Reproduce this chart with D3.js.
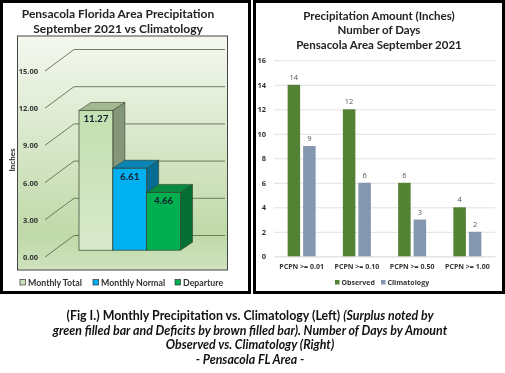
<!DOCTYPE html>
<html>
<head>
<meta charset="utf-8">
<script src="https://cdn.jsdelivr.net/npm/d3@7"></script>
<style>
  html, body { margin: 0; padding: 0; background: #fff; }
  svg { display: block; filter: blur(0.3px); }
  text { font-family: Lato, "Open Sans", sans-serif; }
</style>
</head>
<body>
<svg id="chart" width="505" height="373"></svg>
<script>
// left chart
const monthlyNames = ['Monthly Total', 'Monthly Normal', 'Departure']
const monthlyValues = [11.27, 6.61, 4.66]
const monthlyTicks = [0, 3, 6, 9, 12, 15]
// right chart
const dayCategories = ['PCPN >= 0.01', 'PCPN >= 0.10', 'PCPN >= 0.50', 'PCPN >= 1.00']
const observedDays = [14, 12, 6, 4]
const climatologyDays = [9, 6, 3, 2]
const dayTicks = [0, 2, 4, 6, 8, 10, 12, 14, 16]
const captionLines = [
    [['(Fig I.) Monthly Precipitation vs. Climatology (Left) ', false], ['(Surplus noted by', true]],
    [['green filled bar and Deficits by brown filled bar). Number of Days by Amount', true]],
    [['Observed vs. Climatology (Right)', true]],
    [['- Pensacola FL Area -', true]]
]

const svg = d3.select('#chart')
const defs = svg.append('defs')

// panel borders
svg.append('rect').attr('x', 1.5).attr('y', 1.5).attr('width', 248).attr('height', 141 + 150)
    .attr('fill', '#fff').attr('stroke', '#000').attr('stroke-width', 3)
svg.append('rect').attr('x', 254.5).attr('y', 1.5).attr('width', 249).attr('height', 141 + 150)
    .attr('fill', '#fff').attr('stroke', '#000').attr('stroke-width', 3)

// ---- left chart ----
const left = svg.append('g')
left.append('text').attr('x', 118).attr('y', 18).attr('text-anchor', 'middle')
    .attr('font-size', 12).attr('font-weight', 700).attr('fill', '#222')
    .text('Pensacola Florida Area Precipitation')
left.append('text').attr('x', 118).attr('y', 33).attr('text-anchor', 'middle')
    .attr('font-size', 12).attr('font-weight', 700).attr('fill', '#222')
    .text('September 2021 vs Climatology')

const plotGradient = defs.append('linearGradient').attr('id', 'plot-bg')
    .attr('x1', '0%').attr('x2', '0%').attr('y1', '0%').attr('y2', '100%')
plotGradient.append('stop').attr('offset', '0%').attr('stop-color', '#f4f8f0')
plotGradient.append('stop').attr('offset', '85%').attr('stop-color', '#bfd9a8')
plotGradient.append('stop').attr('offset', '100%').attr('stop-color', '#cfe3bf')

const barGradient = defs.append('linearGradient').attr('id', 'total-bar')
    .attr('x1', '0%').attr('x2', '0%').attr('y1', '0%').attr('y2', '100%')
barGradient.append('stop').attr('offset', '0%').attr('stop-color', '#c3dfb0')
barGradient.append('stop').attr('offset', '100%').attr('stop-color', '#d8e9cb')

left.append('rect').attr('x', 17.5).attr('y', 36).attr('width', 210).attr('height', 84 + 150)
    .attr('fill', 'url(#plot-bg)').attr('stroke', '#444').attr('stroke-width', 1)

// front edge of the 3d floor, the back wall sits at an offset from it
const frontY = d3.scaleLinear().domain([0, 15]).range([257, 71])
const wallDx = 29
const wallDy = -21.5
const frontX = 45
const wallEnd = 225

const yAxisLeft = d3.axisLeft(frontY).tickValues(monthlyTicks).tickSize(0).tickFormat(d3.format('.2f'))
const yAxisLeftG = left.append('g').attr('transform', 'translate(41, 0)').call(yAxisLeft)
yAxisLeftG.select('.domain').remove()
yAxisLeftG.selectAll('text').attr('font-size', 7.5).attr('font-weight', 700).attr('fill', '#333')
    .style('font-family', '"Open Sans", sans-serif')

left.selectAll('.wall-line').data(monthlyTicks).join('path')
    .attr('class', 'wall-line')
    .attr('fill', 'none').attr('stroke', '#5f6f52').attr('stroke-width', 0.9)
    .attr('d', d => d3.line()([
        [frontX, frontY(d)],
        [frontX + wallDx, frontY(d) + wallDy],
        [wallEnd, frontY(d) + wallDy]
    ]))

left.append('text').attr('transform', 'translate(15, 160) rotate(-90)').attr('text-anchor', 'middle')
    .attr('font-size', 8).attr('font-weight', 700).attr('fill', '#222').text('Inches')

// 3d bars
const monthlyX = d3.scaleBand().domain(monthlyNames).range([79, 180.5])
const monthlyColor = d3.scaleOrdinal().domain(monthlyNames).range(['url(#total-bar)', '#00b0f0', '#00b050'])
const monthlyTop = d3.scaleOrdinal().domain(monthlyNames).range(['#a3b891', '#0a84b4', '#088a41'])
const monthlySide = d3.scaleOrdinal().domain(monthlyNames).range(['#84977a', '#066c94', '#056f33'])
const legendColor = d3.scaleOrdinal().domain(monthlyNames).range(['#cde3bd', '#00b0f0', '#00b050'])
const barDx = 12
const barDy = -8
const barLift = -6.8
const monthlyData = monthlyNames.map((name, i) => ({ name, value: monthlyValues[i] }))

const barG = left.selectAll('.bar3d').data(monthlyData).join('g').attr('class', 'bar3d')
const barTop = d => frontY(d.value) + barLift
const barBase = frontY(0) + barLift
const barLine = d3.line()
barG.append('path').attr('fill', d => monthlySide(d.name)).attr('stroke', '#33402c').attr('stroke-width', 0.6)
    .attr('d', d => {
        const r = monthlyX(d.name) + monthlyX.bandwidth()
        return barLine([[r, barTop(d)], [r + barDx, barTop(d) + barDy], [r + barDx, barBase + barDy], [r, barBase]]) + 'Z'
    })
barG.append('path').attr('fill', d => monthlyTop(d.name)).attr('stroke', '#33402c').attr('stroke-width', 0.6)
    .attr('d', d => {
        const l = monthlyX(d.name)
        const r = l + monthlyX.bandwidth()
        return barLine([[l, barTop(d)], [l + barDx, barTop(d) + barDy], [r + barDx, barTop(d) + barDy], [r, barTop(d)]]) + 'Z'
    })
barG.append('rect')
    .attr('x', d => monthlyX(d.name))
    .attr('y', d => barTop(d))
    .attr('width', monthlyX.bandwidth())
    .attr('height', d => barBase - barTop(d))
    .attr('fill', d => monthlyColor(d.name))
    .attr('stroke', '#33402c').attr('stroke-width', 0.7)
barG.append('text')
    .attr('x', d => monthlyX(d.name) + monthlyX.bandwidth() / 2)
    .attr('y', d => barTop(d) + 12)
    .attr('text-anchor', 'middle')
    .attr('font-size', 9.8).attr('font-weight', 700).attr('fill', '#10202c')
    .text(d => d3.format('.2f')(d.value))

// left legend
const legendLeftX = d3.scaleOrdinal().domain(monthlyNames).range([20, 93, 175])
const legendLeft = left.selectAll('.legend-left').data(monthlyNames).join('g').attr('class', 'legend-left')
    .attr('transform', d => `translate(${legendLeftX(d)}, 280)`)
legendLeft.append('rect').attr('y', -0.5).attr('width', 5.5).attr('height', 5.5)
    .attr('fill', d => legendColor(d)).attr('stroke', '#333').attr('stroke-width', 0.7)
legendLeft.append('text').attr('x', 8).attr('y', 5.5).attr('font-size', 8.8).attr('font-weight', 700)
    .attr('fill', '#333').text(d => d)

// ---- right chart ----
const right = svg.append('g')
const rightTitle = ['Precipitation Amount (Inches)', 'Number of Days', 'Pensacola Area September 2021']
right.selectAll('.title-line').data(rightTitle).join('text').attr('class', 'title-line')
    .attr('x', 379).attr('y', (d, i) => 20 + i * 14.3).attr('text-anchor', 'middle')
    .attr('font-size', 11.5).attr('font-weight', 700).attr('fill', '#222').text(d => d)

const dayY = d3.scaleLinear().domain([0, 16]).range([256.3, 60.3])
const dayX = d3.scaleBand().domain(dayCategories).range([274, 495])
const seriesNames = ['Observed', 'Climatology']
const seriesColor = d3.scaleOrdinal().domain(seriesNames).range(['#548235', '#8497b0'])
const seriesX = d3.scaleBand().domain(seriesNames).range([0, dayX.bandwidth()])
    .paddingInner(0.194).paddingOuter(0.88)

const yAxisRight = d3.axisLeft(dayY).tickValues(dayTicks).tickSize(-(495 - 274)).tickPadding(8)
const yAxisRightG = right.append('g').attr('transform', 'translate(274, 0)').call(yAxisRight)
yAxisRightG.select('.domain').remove()
yAxisRightG.selectAll('line').attr('stroke', '#e2e2e2').attr('stroke-width', 1)
yAxisRightG.selectAll('text').attr('font-size', 7.5).attr('font-weight', 700).attr('fill', '#333')
    .style('font-family', '"Open Sans", sans-serif')

const xAxisRight = d3.axisBottom(dayX).tickSize(0).tickPadding(8)
const xAxisRightG = right.append('g').attr('transform', `translate(0, ${dayY(0)})`).call(xAxisRight)
xAxisRightG.select('.domain').attr('stroke', '#e2e2e2')
xAxisRightG.selectAll('text').attr('font-size', 7).attr('font-weight', 700).attr('fill', '#333')
    .style('font-family', '"Open Sans", sans-serif')

const seriesData = [
    { name: 'Observed', values: observedDays },
    { name: 'Climatology', values: climatologyDays }
]
seriesData.forEach(s => {
    const rows = dayCategories.map((c, i) => ({ c, v: s.values[i] }))
    right.selectAll(`.bar-${s.name}`).data(rows).join('rect').attr('class', `bar-${s.name}`)
        .attr('x', d => dayX(d.c) + seriesX(s.name))
        .attr('y', d => dayY(d.v))
        .attr('width', seriesX.bandwidth())
        .attr('height', d => dayY(0) - dayY(d.v))
        .attr('fill', seriesColor(s.name))
    right.selectAll(`.label-${s.name}`).data(rows).join('text').attr('class', `label-${s.name}`)
        .attr('x', d => dayX(d.c) + seriesX(s.name) + seriesX.bandwidth() / 2)
        .attr('y', d => dayY(d.v) - 5)
        .attr('text-anchor', 'middle')
        .attr('font-size', 7.5).attr('fill', '#555')
        .style('font-family', '"Open Sans", sans-serif')
        .text(d => d.v)
})

// right legend
const legendRightX = d3.scaleOrdinal().domain(seriesNames).range([335, 381])
const legendRight = right.selectAll('.legend-right').data(seriesNames).join('g').attr('class', 'legend-right')
    .attr('transform', d => `translate(${legendRightX(d)}, 280)`)
legendRight.append('rect').attr('width', 4.5).attr('height', 4.5).attr('fill', d => seriesColor(d))
legendRight.append('text').attr('x', 6.5).attr('y', 5).attr('font-size', 7).attr('font-weight', 700)
    .attr('fill', '#333').style('font-family', '"Open Sans", sans-serif').text(d => d)

// caption
const caption = svg.append('g')
captionLines.forEach((parts, i) => {
    const t = caption.append('text').attr('x', 250).attr('y', 320 + i * 14.7)
        .attr('text-anchor', 'middle').attr('font-size', 12.4).attr('font-weight', 700).attr('fill', '#111')
    parts.forEach(p => {
        t.append('tspan').attr('font-style', p[1] ? 'italic' : 'normal').text(p[0])
    })
})
</script>
</body>
</html>
